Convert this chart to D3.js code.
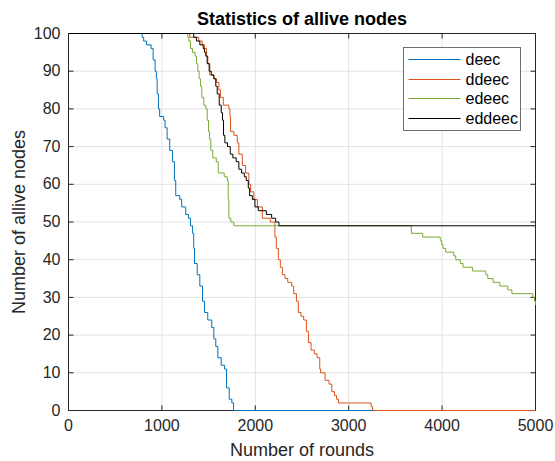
<!DOCTYPE html>
<html>
<head>
<meta charset="utf-8">
<script src="https://d3js.org/d3.v7.min.js"></script>
<style>
  body { margin: 0; background: #fff; }
  svg { display: block; font-family: "Liberation Sans", Arial, sans-serif; }
</style>
</head>
<body>
<svg id="chart" width="555" height="461"></svg>
<script>
// [round, alive nodes] breakpoints
const deec = [[0,100],[788,99],[805,98],[834,97],[884,96],[906,93],[927,90],[941,88],[949,84],[963,80],[976,78],
  [1019,77],[1034,75],[1056,72],[1084,69],[1113,66],[1134,61],[1148,57],[1191,56],[1212,54],[1255,52],[1284,51],
  [1306,49],[1327,47],[1341,43],[1349,39],[1378,36],[1406,33],[1435,29],[1456,26],[1491,24],[1534,22],[1556,19],
  [1577,17],[1599,14],[1635,12],[1671,11],[1692,6],[1721,3],[1749,2],[1767,0],[5000,0]];
const ddeec = [[0,100],[1298,99],[1395,98],[1431,97],[1456,96],[1478,94],[1492,92],[1513,89],[1556,88],[1585,87],
  [1610,85],[1628,83],[1657,81],[1717,80],[1728,78],[1735,74],[1770,73],[1807,71],[1824,68],[1861,65],[1896,63],
  [1931,60],[1950,58],[1985,56],[2022,54],[2075,51],[2160,50],[2210,46],[2225,43],[2247,40],[2268,38],[2290,36],
  [2318,35],[2347,34],[2390,33],[2411,31],[2440,29],[2461,26],[2489,25],[2518,24],[2547,21],[2569,18],[2597,16],
  [2633,15],[2661,14],[2690,11],[2698,10],[2747,8],[2790,7],[2819,5],[2848,4],[2869,3],[2891,2],[3240,1],[3256,0],[5000,0]];
const edeec = [[0,100],[1277,99],[1288,98],[1306,96],[1327,95],[1356,94],[1370,92],[1384,90],[1399,88],[1413,86],
  [1427,83],[1449,81],[1470,80],[1485,77],[1499,74],[1510,72],[1524,69],[1545,67],[1582,66],[1603,63],[1667,62],
  [1700,61],[1710,56],[1717,51],[1738,50],[1770,49],[3670,47],[3792,46],[3981,45],[3996,44],[4010,43],[4039,42],
  [4125,41],[4146,40],[4195,39],[4224,38],[4324,37],[4468,36],[4489,35],[4546,34],[4618,33],[4704,32],[4747,31],
  [4972,30],[4990,29],[5000,28]];
const eddeec = [[0,100],[1341,99],[1370,98],[1406,97],[1442,96],[1456,95],[1470,94],[1485,92],[1506,90],[1528,89],
  [1556,88],[1577,86],[1592,84],[1614,81],[1635,79],[1649,77],[1660,73],[1674,71],[1703,70],[1732,68],[1760,67],
  [1796,66],[1824,64],[1853,63],[1882,62],[1903,61],[1925,59],[1939,57],[1968,56],[1996,54],[2032,53],[2118,52],
  [2175,51],[2218,50],[2253,49],[5000,49]];

const seriesNames = ["deec", "ddeec", "edeec", "eddeec"];
const seriesData = [deec, ddeec, edeec, eddeec];
const colors = ["#0072BD", "#D95319", "#77AC30", "#000000"];
const xTicks = [0, 1000, 2000, 3000, 4000, 5000];
const yTicks = [0, 10, 20, 30, 40, 50, 60, 70, 80, 90, 100];

const svg = d3.select("#chart");
// half-pixel edges so 1px strokes land crisp
const m = { left: 68.5, right: 535.5, top: 33.5, bottom: 410.5 };

const x = d3.scaleLinear().domain([0, 5000]).range([m.left, m.right]);
const y = d3.scaleLinear().domain([0, 100]).range([m.bottom, m.top]);

// grid
const grid = svg.append("g").attr("stroke", "#e3e3e3").attr("stroke-width", 1);
xTicks.forEach(t => {
    grid.append("line").attr("x1", x(t)).attr("x2", x(t)).attr("y1", m.top).attr("y2", m.bottom);
});
yTicks.forEach(t => {
    grid.append("line").attr("x1", m.left).attr("x2", m.right).attr("y1", y(t)).attr("y2", y(t));
});

// axes, MATLAB style: box with inward ticks on every side
const tickCol = "#262626";
const xBottom = svg.append("g").attr("transform", `translate(0,${m.bottom})`)
    .call(d3.axisBottom(x).tickValues(xTicks).tickFormat(d3.format("d")).offset(0)
        .tickSizeInner(-5).tickSizeOuter(0).tickPadding(9));
const xTop = svg.append("g").attr("transform", `translate(0,${m.top})`)
    .call(d3.axisTop(x).tickValues(xTicks).offset(0).tickSizeInner(-5).tickSizeOuter(0).tickFormat(""));
const yLeft = svg.append("g").attr("transform", `translate(${m.left},0)`)
    .call(d3.axisLeft(y).tickValues(yTicks).offset(0).tickSizeInner(-5).tickSizeOuter(0).tickPadding(8));
const yRight = svg.append("g").attr("transform", `translate(${m.right},0)`)
    .call(d3.axisRight(y).tickValues(yTicks).offset(0).tickSizeInner(-5).tickSizeOuter(0).tickFormat(""));

[xBottom, xTop, yLeft, yRight].forEach(g => {
    g.select(".domain").attr("stroke", tickCol);
    g.selectAll(".tick line").attr("stroke", tickCol);
    g.selectAll("text").attr("fill", tickCol)
        .style("font-family", "Liberation Sans, Arial, sans-serif")
        .style("font-size", "16px");
});

// data lines, drawn over the box like MATLAB does
const line = d3.line()
    .x(d => x(d[0]))
    .y(d => y(d[1]))
    .curve(d3.curveStepAfter);

const plot = svg.append("g");
seriesData.forEach((data, i) => {
    plot.append("path")
        .datum(data)
        .attr("d", line)
        .attr("fill", "none")
        .attr("stroke", colors[i])
        .attr("stroke-width", 1);
});

// title and labels
svg.append("text")
    .attr("x", (m.left + m.right) / 2)
    .attr("y", 25)
    .attr("text-anchor", "middle")
    .attr("font-weight", "bold")
    .attr("font-size", 18)
    .attr("fill", "#000")
    .text("Statistics of allive nodes");

svg.append("text")
    .attr("x", (m.left + m.right) / 2)
    .attr("y", 456)
    .attr("text-anchor", "middle")
    .attr("font-size", 18)
    .attr("fill", tickCol)
    .text("Number of rounds");

svg.append("text")
    .attr("transform", `translate(25,${(m.top + m.bottom) / 2}) rotate(-90)`)
    .attr("text-anchor", "middle")
    .attr("font-size", 18)
    .attr("fill", tickCol)
    .text("Number of allive nodes");

// legend
const legend = svg.append("g").attr("transform", "translate(403.5,47.5)");
legend.append("rect")
    .attr("width", 117).attr("height", 83)
    .attr("fill", "#fff").attr("stroke", "#6e6e6e").attr("stroke-width", 1);
seriesNames.forEach((name, i) => {
    const ly = Math.round(12 + i * 19.5);
    legend.append("line")
        .attr("x1", 5).attr("x2", 57).attr("y1", ly).attr("y2", ly)
        .attr("stroke", colors[i]).attr("stroke-width", 1.2);
    legend.append("text")
        .attr("x", 62).attr("y", ly).attr("dy", "0.35em")
        .attr("font-size", 16).attr("fill", "#000")
        .text(name);
});
</script>
</body>
</html>
